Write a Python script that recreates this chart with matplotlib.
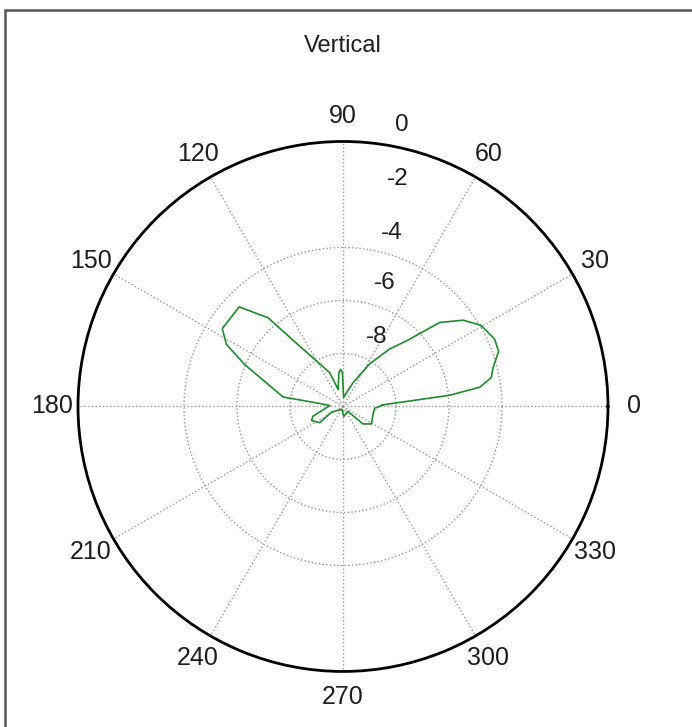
import numpy as np
import matplotlib.pyplot as plt
from matplotlib.patches import Rectangle

# measured vertical pattern, path order (angle in degrees, level in dB)
angle_deg = [2.3, 6, 8, 11, 14.5, 19.5, 24, 30.5, 35.7, 41, 46, 51, 58, 67, 76, 86,
             91, 93.6, 96.6, 102, 106, 111.5, 125.9, 130.2, 136.2, 147.2, 152, 156.9,
             171, 172.7, 176, 198, 204, 215, 206, 250, 274, 315, 318.8, 328.4, 347.6,
             356.8, 360, 362.3]
gain_db = [-8.50, -5.96, -4.79, -4.30, -4.15, -3.77, -3.74, -3.96, -4.42, -5.17, -6.57,
           -7.21, -8.11, -9.02, -9.47, -9.66, -8.72, -8.60, -8.70, -9.15, -9.33, -8.63,
           -7.15, -5.62, -4.57, -4.58, -5.02, -5.97, -7.71, -9.11, -9.50, -8.81, -8.70,
           -8.93, -9.51, -9.89, -9.62, -9.74, -9.00, -8.74, -8.83, -8.80, -8.62, -8.50]

theta_ticks = [0, 30, 60, 90, 120, 150, 180, 210, 240, 270, 300, 330]
ring_levels = [-8, -6, -4]
r_tick_labels = ['0', '-2', '-4', '-6', '-8']

plt.rcParams['font.family'] = ['Liberation Sans', 'DejaVu Sans']

fig = plt.figure(figsize=(6.92, 7.27), dpi=100)
ax = fig.add_axes([0.1127, 0.0764, 0.7659, 0.729], projection='polar')
ax.set_ylim(-10, 0)
ax.set_xticks(np.radians(theta_ticks))
ax.set_xticklabels([])
ax.set_yticks(ring_levels)
ax.set_yticklabels([])
ax.grid(True, color='#9a9a9a', linestyle=':', linewidth=1.0)
ax.spines['polar'].set_color('black')
ax.spines['polar'].set_linewidth(2)

ax.plot(np.radians(angle_deg), gain_db, color='#1e8c2e', lw=1.2)

# angle labels just outside the rim
for t in theta_ticks:
    ax.text(np.radians(t), 0.98, str(t), ha='center', va='center',
            fontsize=18, color='#1e1e1e', clip_on=False)

# level labels stacked above the centre
lab_pos = [(0.611, 1.031), (0.604, 0.929), (0.592, 0.828), (0.579, 0.733), (0.564, 0.632)]
for txt, (x, y) in zip(r_tick_labels, lab_pos):
    ax.text(x, y, txt, transform=ax.transAxes, ha='center', va='center',
            fontsize=17.5, color='#1e1e1e')

fig.text(343 / 692, 1 - 46 / 727, 'Vertical', ha='center', va='center',
         fontsize=17, color='#1e1e1e')

# frame around the figure
fig.add_artist(Rectangle((5 / 692, -0.1), 1.2, 1.1 - 10 / 727, transform=fig.transFigure,
                         fill=False, edgecolor='#555555', lw=1.8))

plt.savefig('out.png', dpi=100)
